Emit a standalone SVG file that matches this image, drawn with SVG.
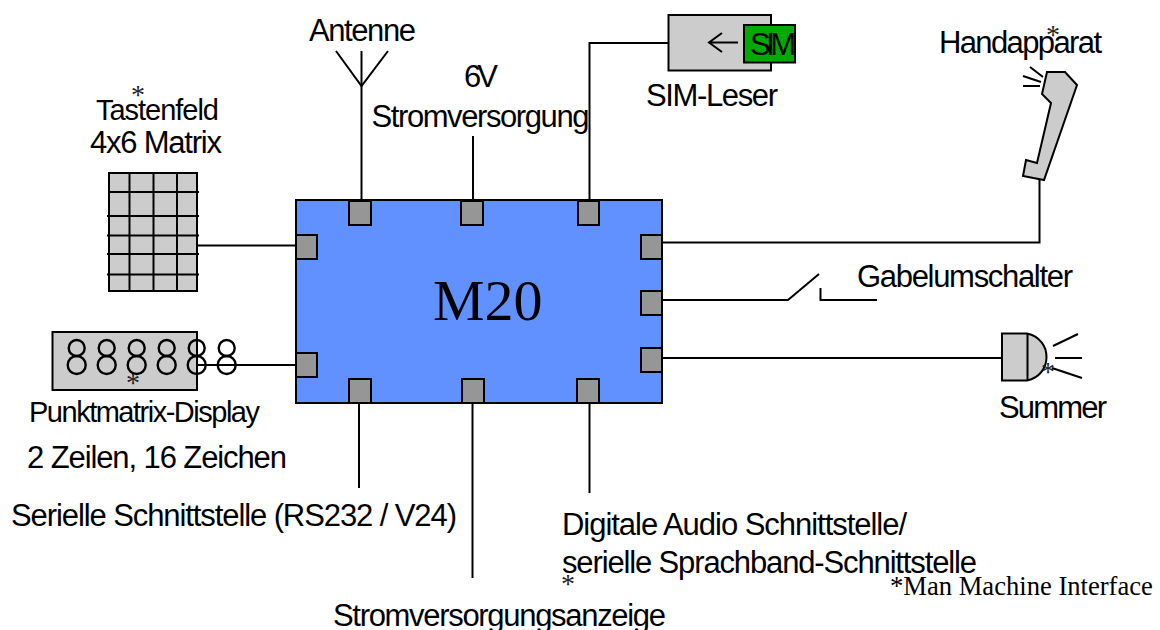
<svg xmlns="http://www.w3.org/2000/svg" width="1160" height="630" viewBox="0 0 1160 630">
<style>
.t{font-family:"Liberation Sans",Arial,sans-serif;font-size:31px;fill:#000}
.n{font-size:29px}
.s{font-family:"Liberation Serif",serif;font-size:28px;fill:#222;text-anchor:middle}
.l{fill:none;stroke:#000;stroke-width:2px}
.g{fill:#ccc;stroke:#000;stroke-width:2px}
.p{fill:#969696;stroke:#000;stroke-width:2px}
.d{fill:none;stroke:#000;stroke-width:2.400px}
</style>
<rect width="1160" height="630" fill="#fff"/>
<g id="connectors" class="l">
<path d="M197 245.500H296"/>
<path d="M197 365H296"/>
<path d="M361.500 200V51"/>
<path d="M336 51L361.500 86L388 51"/>
<path d="M473 200V136"/>
<path d="M589.500 200V43H668"/>
<path d="M662 242.500H1039.500V180"/>
<path d="M662 300H788L819 274M820.500 288V300H877"/>
<path d="M662 358H1002"/>
<path d="M359 403V488"/>
<path d="M472.500 403V578"/>
<path d="M589.500 403V493"/>
</g>
<g id="m20">
<rect x="296" y="200" width="366" height="203" fill="#6190ff" stroke="#000" stroke-width="2"/>
<text x="433" y="320" font-family="Liberation Serif,serif" font-size="58" fill="#000">M20</text>
<rect class="p" x="349" y="201" width="22" height="24"/>
<rect class="p" x="461" y="201" width="22" height="24"/>
<rect class="p" x="578" y="201" width="21" height="24"/>
<rect class="p" x="296" y="235" width="21" height="24"/>
<rect class="p" x="296" y="353" width="21" height="24"/>
<rect class="p" x="641" y="235" width="21" height="24"/>
<rect class="p" x="641" y="291" width="21" height="24"/>
<rect class="p" x="641" y="348" width="21" height="24"/>
<rect class="p" x="349" y="379" width="22" height="24"/>
<rect class="p" x="462" y="379" width="22" height="24"/>
<rect class="p" x="577" y="379" width="22" height="24"/>
</g>
<g id="tastenfeld">
<rect class="g" x="109" y="173" width="88" height="118"/>
<path class="l" d="M129.500 172V292M153.500 172V292M177 172V292M108 192H199M107 216H199M107 235.500H199M107 254H199M107 274.500H199"/>
<text class="t n" x="96" y="120" textLength="123">Tastenfeld</text>
<text class="t" x="90" y="153" textLength="132">4x6 Matrix</text>
<text class="s" x="138" y="104">*</text>
</g>
<g id="display">
<rect class="g" x="52.500" y="332" width="144.500" height="58"/>
<g class="d">
<circle cx="76.700" cy="348" r="8"/><circle cx="76.700" cy="365" r="9"/>
<circle cx="106.700" cy="348" r="8"/><circle cx="106.700" cy="365" r="9"/>
<circle cx="136.700" cy="348" r="8"/><circle cx="136.700" cy="365" r="9"/>
<circle cx="166.700" cy="348" r="8"/><circle cx="166.700" cy="365" r="9"/>
<circle cx="196.700" cy="348" r="8"/><circle cx="196.700" cy="365" r="9"/>
<circle cx="226.700" cy="348" r="8"/><circle cx="226.700" cy="365" r="9"/>
</g>
<text class="s" x="133" y="392">*</text>
<text class="t n" x="29" y="422" textLength="231">Punktmatrix-Display</text>
<text class="t" x="27" y="468" textLength="260">2 Zeilen, 16 Zeichen</text>
</g>
<g id="antenne"><text class="t" x="309" y="41" textLength="107">Antenne</text></g>
<g id="strom">
<text class="t" x="464" y="87" textLength="34">6V</text>
<text class="t" x="371.500" y="127" textLength="218">Stromversorgung</text>
</g>
<g id="sim">
<rect class="g" x="668.500" y="15" width="102.500" height="55.500"/>
<path class="l" d="M738 42.500H709M722 33L709 42.500L722 52"/>
<rect x="744" y="25" width="51" height="37.500" fill="#0a0" stroke="#000" stroke-width="2"/>
<text class="t" x="750" y="55" textLength="46">SIM</text>
<text class="t" x="646" y="106" textLength="132">SIM-Leser</text>
</g>
<g id="handapparat">
<path class="g" d="M1047 72L1065 72L1077 85L1044 180L1023 176L1026 160L1037 163L1051 103L1042 94Z"/>
<path class="l" d="M1030 67L1043 77M1023 76L1041 82M1023 86L1040 86"/>
<text class="t" x="939" y="53" textLength="163">Handapparat</text>
<text class="s" x="1053" y="44">*</text>
</g>
<g id="gabel"><text class="t" x="857" y="287" textLength="216">Gabelumschalter</text></g>
<g id="summer">
<path class="g" d="M1002 333.500H1027C1053 339 1053 375 1027 380.500H1002Z"/>
<path class="l" d="M1027.500 333.500V380.500M1053 346L1078 334M1055 358H1082M1052 368L1082 378"/>
<text class="s" x="1048" y="381">*</text>
<text class="t" x="999" y="418" textLength="108">Summer</text>
</g>
<g id="seriell"><text class="t" x="11" y="526" textLength="446">Serielle Schnittstelle (RS232 / V24)</text></g>
<g id="audio">
<text class="t" x="562" y="535" textLength="345">Digitale Audio Schnittstelle/</text>
<text class="t" x="562" y="573" textLength="415">serielle Sprachband-Schnittstelle</text>
<text class="s" x="568" y="593">*</text>
</g>
<g id="anzeige"><text class="t" x="333" y="626" textLength="333">Stromversorgungsanzeige</text></g>
<g id="mmi"><text class="s" x="890" y="595" style="font-size:26.600px;text-anchor:start;fill:#000">*Man Machine Interface</text></g>
</svg>
